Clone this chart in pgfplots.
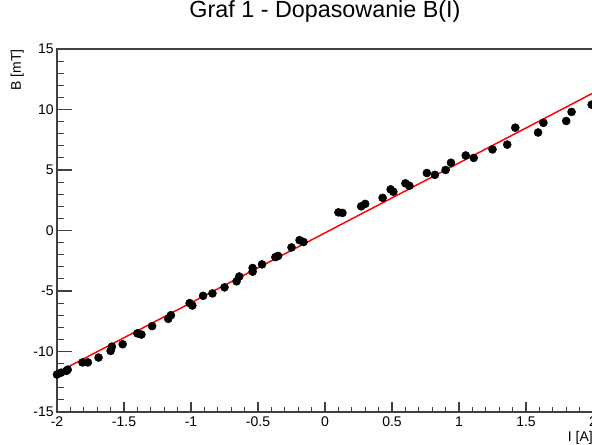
\documentclass[border=0pt]{standalone}
\usepackage{fontspec}
\setmainfont{Liberation Sans}
\usepackage{pgfplots}
\pgfplotsset{compat=1.18}
\begin{document}
\begin{tikzpicture}
\path[use as bounding box] (-42.75pt,-24pt) rectangle (401.25pt,309pt);
\begin{axis}[
  at={(0pt,0pt)}, anchor=south west,
  scale only axis, width=402pt, height=272.25pt,
  xmin=-2, xmax=2, ymin=-15, ymax=15,
  xtick={-2,-1.5,-1,-0.5,0,0.5,1,1.5,2},
  ytick={-15,-10,-5,0,5,10,15},
  minor x tick num=4, minor y tick num=4,
  xtick pos=bottom, ytick pos=left,
  tick align=inside,
  axis line style={black!75, line width=0.8pt},
  every tick/.style={black!75, line width=0.8pt},
  xtick style={/pgfplots/major tick length=7.5pt, /pgfplots/minor tick length=3.75pt},
  ytick style={/pgfplots/major tick length=11.25pt, /pgfplots/minor tick length=5.25pt},
  /pgf/number format/assume math mode=true,
  ticklabel style={font=\fontsize{10.5}{12}\selectfont},
  xticklabel style={yshift=0pt},
  yticklabel style={xshift=1pt},
  title={Graf 1 - Dopasowanie B(I)},
  title style={font=\fontsize{17.5}{21}\selectfont, at={(rel axis cs:0.5,1)}, anchor=base, yshift=17.5pt},
  xlabel={I [A]},
  xlabel style={font=\fontsize{10.5}{12}\selectfont, at={(rel axis cs:1,0)}, anchor=north east, yshift=-14pt, inner sep=0pt},
  ylabel={B [mT]},
  ylabel style={font=\fontsize{10.5}{12}\selectfont, at={(rel axis cs:-0.074,1)}, anchor=east, inner sep=0pt},
  clip=true,
]
\addplot[only marks, mark=*, mark size=3pt, black] coordinates {
(-2.00,-11.9) (-1.97,-11.75) (-1.93,-11.6) (-1.92,-11.5) (-1.81,-10.9) (-1.77,-10.9)
(-1.69,-10.5) (-1.60,-9.95) (-1.59,-9.6) (-1.51,-9.4) (-1.40,-8.5) (-1.37,-8.6)
(-1.29,-7.9) (-1.17,-7.3) (-1.15,-7.0) (-1.01,-6.0) (-0.99,-6.2) (-0.91,-5.4)
(-0.84,-5.2) (-0.75,-4.7) (-0.66,-4.2) (-0.64,-3.8) (-0.54,-3.1) (-0.54,-3.4)
(-0.47,-2.8) (-0.37,-2.2) (-0.35,-2.1) (-0.25,-1.4) (-0.19,-0.8) (-0.16,-0.95)
(0.10,1.5) (0.13,1.45) (0.27,2.0) (0.30,2.2) (0.43,2.7) (0.49,3.4) (0.51,3.2)
(0.60,3.9) (0.63,3.7) (0.76,4.75) (0.82,4.6) (0.90,5.0) (0.94,5.6) (1.05,6.2)
(1.11,6.0) (1.25,6.7) (1.36,7.1) (1.42,8.5) (1.59,8.1) (1.63,8.9) (1.80,9.05)
(1.84,9.8) (1.99,10.4)
};
\addplot[red, line width=1.1pt] coordinates {(-2,-11.75) (2,11.36)};
\end{axis}
\end{tikzpicture}
\end{document}
